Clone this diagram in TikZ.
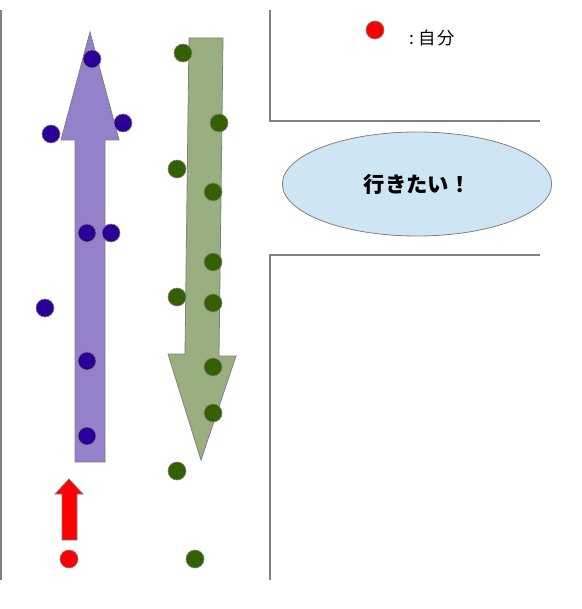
\documentclass[tikz,border=0pt]{standalone}
\usepackage{fontspec}
\newfontfamily\jpfont{Noto Sans CJK JP}
\usepackage{tikz}
\usetikzlibrary{shapes.geometric}
\definecolor{wallgray}{HTML}{808080}
\definecolor{runblue}{HTML}{2B0099}
\definecolor{runlilac}{HTML}{9580CA}
\definecolor{walkgreen}{HTML}{336000}
\definecolor{walksage}{HTML}{9AAF80}
\definecolor{goalblue}{HTML}{CEE5F3}
\tikzset{
  wall/.style={draw=wallgray, line width=1pt},
  bigarrow/.style={draw=wallgray, line width=0.6pt, line join=miter},
  dot/.style={circle, draw=wallgray, line width=0.5pt, inner sep=0pt, minimum size=13.5pt},
  pdot/.style={dot, fill=runblue},
  gdot/.style={dot, fill=walkgreen},
  mdot/.style={dot, fill=red}
}
\begin{document}
\begin{tikzpicture}[x=0.75pt, y=-0.75pt]
\useasboundingbox (0,0) rectangle (581,609);
% walls of the corridor
\draw[wall, line width=1.5pt] (1,10) -- (1,580);
\draw[wall] (270,10) -- (270,121) -- (540,121);
\draw[wall] (540,255) -- (270,255) -- (270,580);
% flow going up
\draw[bigarrow, fill=runlilac] (75,462) -- (75,140) -- (61,140) -- (90,32)
  -- (119,140) -- (105,140) -- (105,462) -- cycle;
% flow going down
\draw[bigarrow, fill=walksage] (189,38) -- (223,38) -- (219,356) -- (236,356)
  -- (201,460) -- (168,354) -- (185,354) -- cycle;
% me
\draw[bigarrow, fill=red] (62,540) -- (62,494) -- (55,494) -- (69,479)
  -- (83,494) -- (77,494) -- (77,540) -- cycle;
% people going up
\node[pdot] (p1) at (92,59) {};
\node[pdot] (p2) at (51,134) {};
\node[pdot] (p3) at (123,123) {};
\node[pdot] (p4) at (87,233) {};
\node[pdot] (p5) at (111,233) {};
\node[pdot] (p6) at (45,308) {};
\node[pdot] (p7) at (87,361) {};
\node[pdot] (p8) at (87,436) {};
% people going down
\node[gdot] (g1) at (183,53) {};
\node[gdot] (g2) at (219,123) {};
\node[gdot] (g3) at (177,169) {};
\node[gdot] (g4) at (213,192) {};
\node[gdot] (g5) at (213,262) {};
\node[gdot] (g6) at (177,297) {};
\node[gdot] (g7) at (213,303) {};
\node[gdot] (g8) at (213,367) {};
\node[gdot] (g9) at (213,413) {};
\node[gdot] (g10) at (177,471) {};
\node[gdot] (g11) at (195,559) {};
\node[mdot] (me) at (69,559) {};
% legend
\node[anchor=west, inner sep=0pt, font=\jpfont\fontsize{13}{15}\selectfont] (keytext) at (409,38) {:\hspace{3pt}自\hspace{1.5pt}分};
\node[mdot] (key) at (375,30) {};
% goal
\node[ellipse, draw=wallgray, line width=0.6pt, fill=goalblue, minimum width=202pt, minimum height=78pt,
  font=\jpfont\bfseries\fontsize{16}{18}\selectfont] (goal) at (417,184) {行きたい！};
\end{tikzpicture}
\end{document}
